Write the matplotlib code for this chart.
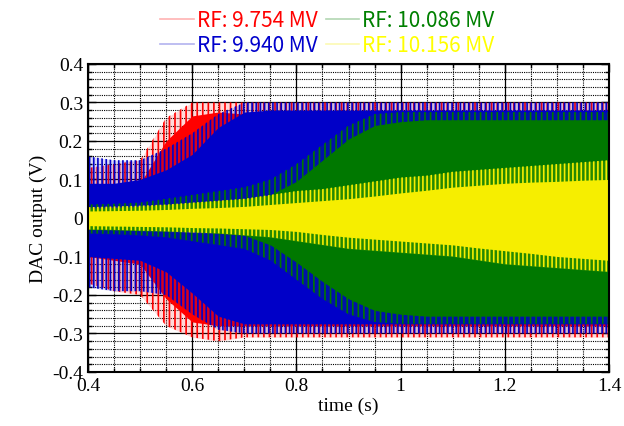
import matplotlib
matplotlib.use('Agg')
import matplotlib.pyplot as plt
from matplotlib.lines import Line2D
from matplotlib.ticker import MultipleLocator

# time axis (s), envelopes every 0.05 s
t = [0.40, 0.45, 0.50, 0.55, 0.60, 0.65, 0.70, 0.75, 0.80, 0.85, 0.90,
     0.95, 1.00, 1.05, 1.10, 1.15, 1.20, 1.25, 1.30, 1.35, 1.40]

labels = ['RF: 9.754 MV', 'RF: 9.940 MV', 'RF: 10.086 MV', 'RF: 10.156 MV']
colors = ['#ff0000', '#0000c8', '#007800', '#f6ee00']
text_colors = ['#ff0000', '#0000cc', '#008000', '#ffff00']
hatches = ['|||', '||||', '|||', '||||']

# RF 9.754 MV
red_core_hi = [0.08, 0.08, 0.09, 0.20, 0.265, 0.275, 0.27, 0.27, 0.27, 0.27, 0.27,
               0.27, 0.27, 0.27, 0.27, 0.27, 0.27, 0.27, 0.27, 0.27, 0.27]
red_peak_hi = [0.13, 0.14, 0.15, 0.26, 0.30, 0.30, 0.30, 0.30, 0.30, 0.30, 0.30,
               0.30, 0.30, 0.30, 0.30, 0.30, 0.30, 0.30, 0.30, 0.30, 0.30]
red_core_lo = [-0.10, -0.11, -0.12, -0.21, -0.27, -0.28, -0.28, -0.28, -0.28, -0.28, -0.28,
               -0.28, -0.28, -0.28, -0.28, -0.28, -0.28, -0.28, -0.28, -0.28, -0.28]
red_peak_lo = [-0.17, -0.19, -0.20, -0.28, -0.31, -0.32, -0.31, -0.31, -0.31, -0.31, -0.31,
               -0.31, -0.31, -0.31, -0.31, -0.31, -0.31, -0.31, -0.31, -0.31, -0.31]

# RF 9.940 MV
blue_core_hi = [0.09, 0.09, 0.10, 0.125, 0.165, 0.235, 0.275, 0.28, 0.28, 0.28, 0.28,
                0.28, 0.28, 0.28, 0.28, 0.28, 0.28, 0.28, 0.28, 0.28, 0.28]
blue_peak_hi = [0.16, 0.15, 0.15, 0.18, 0.22, 0.27, 0.30, 0.30, 0.30, 0.30, 0.30,
                0.30, 0.30, 0.30, 0.30, 0.30, 0.30, 0.30, 0.30, 0.30, 0.30]
blue_core_lo = [-0.10, -0.105, -0.11, -0.14, -0.195, -0.255, -0.275, -0.275, -0.275, -0.275, -0.275,
                -0.275, -0.275, -0.275, -0.275, -0.275, -0.275, -0.275, -0.275, -0.275, -0.275]
blue_peak_lo = [-0.18, -0.19, -0.19, -0.20, -0.25, -0.29, -0.30, -0.30, -0.30, -0.30, -0.30,
                -0.30, -0.30, -0.30, -0.30, -0.30, -0.30, -0.30, -0.30, -0.30, -0.30]

# RF 10.086 MV
green_core_hi = [0.025, 0.027, 0.03, 0.035, 0.04, 0.045, 0.05, 0.06, 0.095, 0.15, 0.205,
                 0.24, 0.25, 0.255, 0.255, 0.255, 0.255, 0.255, 0.255, 0.255, 0.255]
green_peak_hi = [0.035, 0.037, 0.04, 0.05, 0.06, 0.07, 0.08, 0.10, 0.14, 0.19, 0.24,
                 0.27, 0.275, 0.275, 0.275, 0.275, 0.275, 0.275, 0.275, 0.275, 0.275]
green_core_lo = [-0.03, -0.031, -0.033, -0.034, -0.035, -0.04, -0.045, -0.07, -0.115, -0.165, -0.21,
                 -0.24, -0.25, -0.255, -0.255, -0.255, -0.255, -0.255, -0.255, -0.255, -0.255]
green_peak_lo = [-0.04, -0.042, -0.045, -0.05, -0.06, -0.07, -0.08, -0.11, -0.16, -0.21, -0.25,
                 -0.27, -0.275, -0.275, -0.275, -0.275, -0.275, -0.275, -0.275, -0.275, -0.275]

# RF 10.156 MV
yellow_core_hi = [0.018, 0.019, 0.02, 0.022, 0.025, 0.027, 0.03, 0.035, 0.04, 0.045, 0.05,
                  0.057, 0.065, 0.072, 0.08, 0.085, 0.09, 0.093, 0.095, 0.098, 0.10]
yellow_peak_hi = [0.028, 0.03, 0.032, 0.035, 0.04, 0.045, 0.05, 0.06, 0.07, 0.075, 0.085,
                  0.095, 0.105, 0.11, 0.12, 0.125, 0.13, 0.135, 0.14, 0.145, 0.15]
yellow_core_lo = [-0.02, -0.021, -0.022, -0.023, -0.025, -0.026, -0.028, -0.03, -0.035, -0.043, -0.05,
                  -0.055, -0.06, -0.065, -0.07, -0.078, -0.085, -0.092, -0.10, -0.105, -0.11]
yellow_peak_lo = [-0.03, -0.031, -0.033, -0.035, -0.038, -0.04, -0.045, -0.05, -0.06, -0.07, -0.08,
                  -0.085, -0.09, -0.095, -0.10, -0.11, -0.12, -0.125, -0.13, -0.135, -0.14]

core_hi = [red_core_hi, blue_core_hi, green_core_hi, yellow_core_hi]
peak_hi = [red_peak_hi, blue_peak_hi, green_peak_hi, yellow_peak_hi]
core_lo = [red_core_lo, blue_core_lo, green_core_lo, yellow_core_lo]
peak_lo = [red_peak_lo, blue_peak_lo, green_peak_lo, yellow_peak_lo]

plt.rcParams['font.family'] = ['Liberation Serif', 'DejaVu Serif']
plt.rcParams['hatch.linewidth'] = 1.2

fig = plt.figure(figsize=(6.24, 4.27), dpi=100)
ax = fig.add_axes([0.141, 0.1265, 0.835, 0.7215])

# spiky outer part as vertical hatching, solid inner body on top
for i in range(4):
    ax.fill_between(t, peak_lo[i], peak_hi[i], facecolor='none', edgecolor=colors[i],
                    hatch=hatches[i], lw=0, zorder=2 + i)
    ax.fill_between(t, peak_lo[i], peak_hi[i], color=colors[i], alpha=0.15, lw=0, zorder=2 + i)
    ax.fill_between(t, core_lo[i], core_hi[i], color=colors[i], lw=0, zorder=2 + i)

ax.set_xlim(0.4, 1.4)
ax.set_ylim(-0.4, 0.4)
ax.xaxis.set_major_locator(MultipleLocator(0.2))
ax.xaxis.set_minor_locator(MultipleLocator(0.05))
ax.yaxis.set_major_locator(MultipleLocator(0.1))
ax.yaxis.set_minor_locator(MultipleLocator(0.02))
ax.xaxis.set_major_formatter(plt.FuncFormatter(lambda v, p: '1' if abs(v - 1) < 1e-9 else '%.1f' % v))
ax.yaxis.set_major_formatter(plt.FuncFormatter(lambda v, p: '0' if abs(v) < 1e-9 else '%.1f' % v))

ax.set_axisbelow(True)
ax.grid(which='major', color='black', lw=0.9, ls='-')
ax.grid(which='minor', color='black', lw=0.8, ls=(0, (1, 1)))
ax.tick_params(which='both', direction='in', top=True, right=True, labelsize=14, color='black')
ax.tick_params(which='major', length=6, width=1)
ax.tick_params(which='minor', length=3, width=1)
for s in ax.spines.values():
    s.set_linewidth(1.5)
    s.set_zorder(10)

ax.set_xlabel('time (s)', fontsize=14, labelpad=2)
ax.set_ylabel('DAC output (V)', fontsize=14, labelpad=4)

handles = [Line2D([], [], color=c, lw=1.2, alpha=0.3) for c in colors]
leg = fig.legend(handles, labels, loc='upper center', bbox_to_anchor=(0.525, 1.02), ncol=2,
                 frameon=False, handlelength=1.6, handletextpad=0.15, columnspacing=0.4,
                 labelspacing=0.15, prop={'family': ['Noto Sans CJK JP', 'DejaVu Sans'], 'size': 15})
for txt, c in zip(leg.get_texts(), text_colors):
    txt.set_color(c)

fig.savefig('out.png', dpi=100)
